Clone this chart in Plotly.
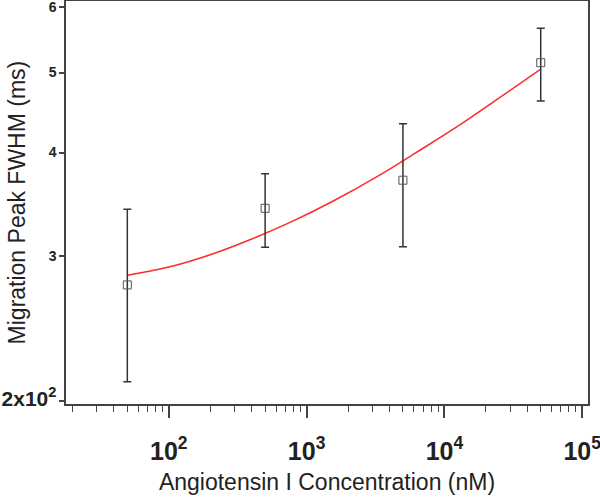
import plotly.graph_objects as go

# Measured points (concentration in nM, FWHM in ms)
conc = [50, 500, 5000, 50000]
fwhm = [2.765, 3.424, 3.703, 5.14]
err_hi = [3.415, 3.77, 4.334, 5.66]
err_lo = [2.111, 3.071, 3.076, 4.62]

# Fitted curve
fit_x = [50, 100, 200, 400, 800, 1600, 3200, 6300, 12600, 25000, 50000]
fit_y = [2.84, 2.906, 3.008, 3.143, 3.306, 3.502, 3.735, 4.004, 4.308, 4.659, 5.05]

y_tickvals = [2, 3, 4, 5, 6]
y_ticktext = ['<span style="font-size:21px">2x10<sup>2</sup></span>', "3", "4", "5", "6"]

x_title = "Angiotensin I Concentration (nM)"
y_title = "Migration Peak FWHM (ms)"

plus = [h - v for h, v in zip(err_hi, fwhm)]
minus = [v - l for l, v in zip(err_lo, fwhm)]

fig = go.Figure()
fig.add_trace(go.Scatter(
    x=fit_x, y=fit_y, mode="lines", line=dict(color="#ff2a2a", width=1.5, shape="spline", smoothing=1.0),
    showlegend=False, hoverinfo="skip"))
fig.add_trace(go.Scatter(
    x=conc, y=fwhm, mode="markers",
    marker=dict(symbol="square-open", size=8, color="#555555", line=dict(width=1)),
    error_y=dict(type="data", symmetric=False, array=plus, arrayminus=minus,
                 color="#333333", thickness=1.5, width=4),
    showlegend=False))

axis_line = dict(showline=True, linecolor="#444444", linewidth=1.5, mirror=True,
                 showgrid=False, zeroline=False, automargin=False)

fig.update_layout(
    width=600, height=499,
    margin=dict(l=66, r=12, t=1, b=95, autoexpand=False),
    plot_bgcolor="white", paper_bgcolor="white",
    font=dict(family="Liberation Sans", color="#222222"),
    xaxis=dict(
        type="log", range=[1.254, 5.042], dtick=1, exponentformat="power",
        ticks="outside", ticklen=12, tickwidth=1.5, tickcolor="#444444",
        tickfont=dict(family="Liberation Sans Narrow, Liberation Sans", size=20, weight="bold", color="#222222"),
        ticklabelstandoff=13, ticklabeloverflow="allow",
        minor=dict(ticks="outside", ticklen=6, tickwidth=1.2, tickcolor="#444444", dtick="D1"),
        title=dict(text=x_title, font=dict(size=23, family="Liberation Sans"), standoff=10),
        **axis_line),
    yaxis=dict(
        type="log", range=[0.2974, 0.7857],
        tickmode="array", tickvals=y_tickvals, ticktext=y_ticktext,
        ticks="outside", ticklen=5, tickwidth=1.5, tickcolor="#444444",
        tickfont=dict(family="Liberation Sans", size=14, weight="bold", color="#222222"),
        ticklabeloverflow="allow",
        **axis_line),
    annotations=[dict(text=y_title, textangle=-90, xref="paper", yref="paper",
                      x=-0.094, y=0.5, xanchor="center", yanchor="middle", showarrow=False,
                      font=dict(size=23, family="Liberation Sans", color="#222222"))],
)

fig.write_html("out.html", config={"displayModeBar": False},
               post_script="document.body.style.margin='0';document.body.style.padding='0';")
